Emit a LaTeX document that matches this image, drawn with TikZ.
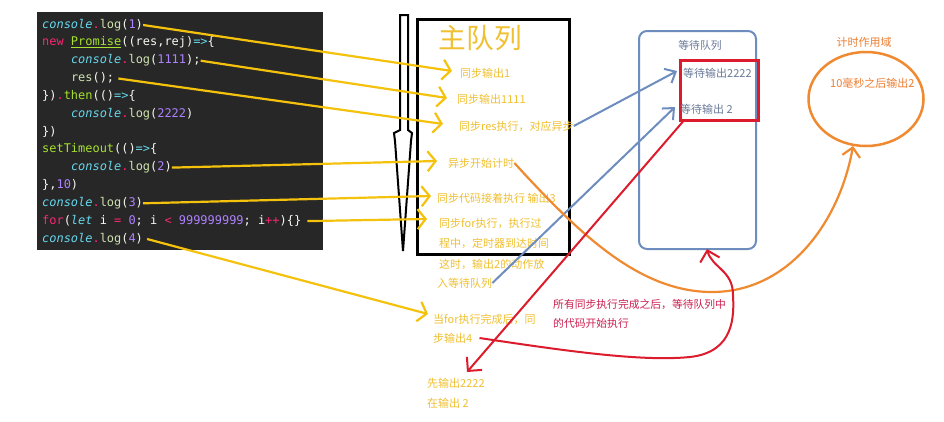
\documentclass[tikz,border=0pt]{standalone}
\usepackage{fontspec}
\usetikzlibrary{arrows.meta,shapes.geometric}
\newfontfamily\cjk{Noto Sans CJK SC}
\newfontfamily\codefont{DejaVu Sans Mono}
\definecolor{codebg}{HTML}{272727}
\definecolor{mcyan}{HTML}{66D9EF}
\definecolor{mpink}{HTML}{F92672}
\definecolor{mgreen}{HTML}{A6E22E}
\definecolor{mlog}{HTML}{CFE3B0}
\definecolor{mpurple}{HTML}{AE81FF}
\definecolor{mwhite}{HTML}{F8F8F2}
\definecolor{ytxt}{HTML}{F0C030}
\definecolor{yline}{HTML}{F4C20D}
\definecolor{qblue}{HTML}{6E8DBF}
\definecolor{qred}{HTML}{DC1C2C}
\definecolor{redtxt}{HTML}{CC2050}
\definecolor{torange}{HTML}{F08A30}
\definecolor{otxt}{HTML}{ED7D31}
\definecolor{wtxt}{HTML}{6A7A98}
\newcommand\kC[1]{\textcolor{mcyan}{\itshape #1}}
\newcommand\kP[1]{\textcolor{mpink}{#1}}
\newcommand\kG[1]{\textcolor{mgreen}{#1}}
\newcommand\kL[1]{\textcolor{mlog}{#1}}
\newcommand\kN[1]{\textcolor{mpurple}{#1}}
\begin{document}
\begin{tikzpicture}[x=1pt,y=-1pt,
  codeline/.style={anchor=west,inner sep=0pt,text=mwhite,font=\codefont\fontsize{11.95}{14}\selectfont,text height=9pt,text depth=3pt},
  ytext/.style={anchor=west,inner sep=0pt,text=ytxt,font=\cjk\fontsize{11}{13}\selectfont},
  rtext/.style={anchor=west,inner sep=0pt,text=redtxt,font=\cjk\fontsize{10.8}{13}\selectfont},
  wtext/.style={anchor=west,inner sep=0pt,text=wtxt,font=\cjk\fontsize{11}{13}\selectfont},
  otext/.style={inner sep=0pt,text=otxt,font=\cjk\fontsize{11}{13}\selectfont},
  yarrow/.style={draw=yline,line width=2.2pt,-{Straight Barb[length=8pt,width=20pt]}},
  barrow/.style={draw=qblue,line width=2pt,-{Straight Barb[length=9pt,width=16pt]}},
  rarrow/.style={draw=qred,line width=2pt,-{Straight Barb[length=10pt,width=20pt]}},
  oarrow/.style={draw=torange,line width=2.2pt,-{Straight Barb[length=9pt,width=18pt]}}
]
\useasboundingbox (0,0) rectangle (944,421);
\fill[white] (0,0) rectangle (944,421);

% code panel
\node[fill=codebg,minimum width=286pt,minimum height=238pt,anchor=north west,inner sep=0pt] (code) at (37,12) {};
\node[codeline] (c0) at (42,25.0) {\kC{console}\kP{.}\kL{log}(\kN{1})};
\node[codeline] (c1) at (42,42.8) {\kP{new} \kG{\underline{Promise}}((res,rej)\kC{=>}\{};
\node[codeline] (c2) at (70.8,60.7) {\kC{console}\kP{.}\kL{log}(\kN{1111});};
\node[codeline] (c3) at (70.8,78.5) {\kL{res}();};
\node[codeline] (c4) at (42,96.3) {\})\kP{.}\kG{then}(()\kC{=>}\{};
\node[codeline] (c5) at (70.8,114.2) {\kC{console}\kP{.}\kL{log}(\kN{2222})};
\node[codeline] (c6) at (42,132.0) {\})};
\node[codeline] (c7) at (42,149.8) {\kG{setTimeout}(()\kC{=>}\{};
\node[codeline] (c8) at (70.8,167.6) {\kC{console}\kP{.}\kL{log}(\kN{2})};
\node[codeline] (c9) at (42,185.5) {\},\kN{10})};
\node[codeline] (c10) at (42,203.3) {\kC{console}\kP{.}\kL{log}(\kN{3})};
\node[codeline] (c11) at (42,221.1) {\kP{for}(\kC{let} i \kP{=} \kN{0}; i \kP{<} \kN{999999999}; i\kP{++})\{\}};
\node[codeline] (c12) at (42,239.0) {\kC{console}\kP{.}\kL{log}(\kN{4})};

% execution arrow
\draw[line width=2pt,line join=miter] (400,15) -- (400,130) -- (394,133) -- (395,141) -- (403,251)
  -- (411,141) -- (412,133) -- (408,130) -- (408,15) -- cycle;

% main queue
\node[draw,line width=3pt,minimum width=152pt,minimum height=235pt,anchor=north west,inner sep=0pt] (mainq) at (416,18) {};
\node[inner sep=0pt,text=ytxt,font=\cjk\fontsize{27.7}{30}\selectfont] (mtitle) at (480.5,38) {主队列};

\node[ytext] (t1) at (460,73) {同步输出1};
\node[ytext] (t2) at (457,99) {同步输出1111};
\node[ytext] (t3) at (459,126) {同步res执行，对应异步};
\node[ytext] (t4) at (448,163) {异步开始计时};
\node[ytext] (t5) at (437,198) {同步代码接着执行 输出3};
\node[ytext] (t6a) at (439,223) {同步for执行，执行过};
\node[ytext] (t6b) at (439,243) {程中，定时器到达时间};
\node[ytext] (t6c) at (439,264) {这时，输出2的动作放};
\node[ytext] (t6d) at (437,283) {入等待队列};
\node[ytext] (t7a) at (433,319) {当for执行完成后，同};
\node[ytext] (t7b) at (433,338) {步输出4};
\node[ytext] (t8a) at (427,383) {先输出2222};
\node[ytext] (t8b) at (427,403) {在输出 2};

\node[rtext] (r1a) at (553,304) {所有同步执行完成之后，等待队列中};
\node[rtext] (r1b) at (553,323) {的代码开始执行};

% wait queue
\node[draw=qblue,line width=2pt,rounded corners=8pt,minimum width=117pt,minimum height=218pt,anchor=north west,inner sep=0pt] (waitq) at (638,30) {};
\node[inner sep=0pt,text=wtxt,font=\cjk\fontsize{10.8}{13}\selectfont] (ql) at (700,45) {等待队列};
\node[draw=qred,line width=2.5pt,minimum width=78pt,minimum height=60pt,anchor=north west,inner sep=0pt] (redbox) at (679,59) {};
\node[wtext] (w1) at (683,73) {等待输出2222};
\node[wtext] (w2) at (680,109) {等待输出 2};

% timer
\node[draw=torange,ellipse,line width=2.5pt,minimum width=115pt,minimum height=94pt,inner sep=0pt] (timer) at (866,99) {};
\node[otext] (tl) at (864,42) {计时作用域};
\node[otext,anchor=west] (tm) at (830,83) {10毫秒之后输出2};

% tips
\coordinate (p1) at (452,71);
\coordinate (p2) at (447,98);
\coordinate (p3) at (443,124);
\coordinate (p4) at (437,161);
\coordinate (p5) at (431,196);
\coordinate (p6) at (427,219);
\coordinate (p7) at (428,314);
\coordinate (b1) at (677,71);
\coordinate (b2) at (675,107);
\coordinate (rtip) at (467,372);
\coordinate (rq) at (707,249);
\coordinate (ot) at (853,146);

\draw[yarrow] (c0.east) -- (p1);
\draw[yarrow] (c2.east) -- (p2);
\draw[yarrow] ([xshift=4pt]c3.east) -- (p3);
\draw[yarrow] (c8.east) -- (p4);
\draw[yarrow] (c10.east) -- (p5);
\draw[yarrow] ([xshift=6pt]c11.east) -- (p6);
\draw[yarrow] ([xshift=4pt]c12.east) -- (p7);

\draw[barrow] (t3.east) -- (b1);
\draw[barrow] (t6d.east) -- (b2);

\draw[oarrow] (t4.east) .. controls (580,235) and (640,292) .. (712,292)
  .. controls (790,292) and (840,220) .. (ot);

\draw[rarrow] ([xshift=4pt]redbox.south west) -- (rtip);
\draw[rarrow] ([xshift=7pt]t7b.east) .. controls (560,350) and (640,362) .. (690,357)
  .. controls (735,352) and (734,315) .. (733,295)
  .. controls (733,270) and (712,268) .. (rq);
\end{tikzpicture}
\end{document}
